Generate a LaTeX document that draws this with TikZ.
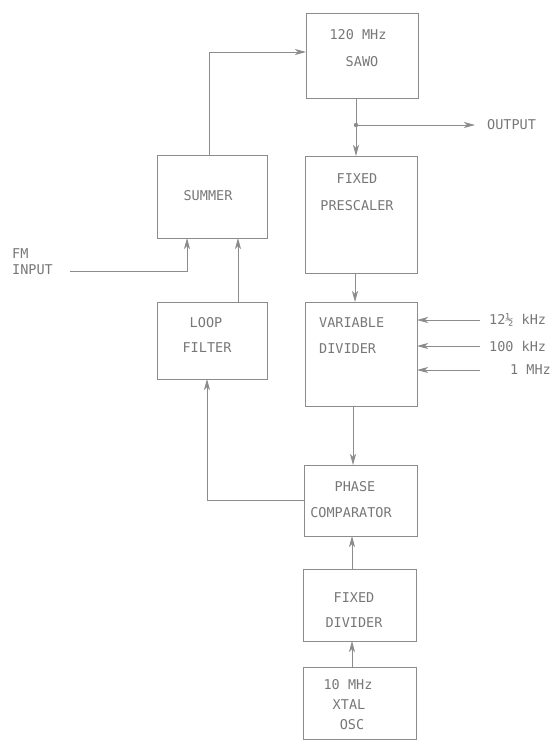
\documentclass[tikz,border=0pt]{standalone}
\usepackage{fontspec}
\newfontfamily\typefont{DejaVu Sans Mono}
\usetikzlibrary{arrows.meta}
\definecolor{linegray}{HTML}{8C8C8C}
\definecolor{textgray}{HTML}{777777}
\begin{document}
\begin{tikzpicture}[x=1pt,y=-1pt,
  blk/.style={draw=linegray,line width=1pt,inner sep=0pt,outer sep=0pt,rectangle},
  lbl/.style={text=textgray,inner sep=0pt,font=\typefont\fontsize{13.5}{15}\selectfont},
  conn/.style={draw=linegray,line width=0.9pt},
  arr/.style={conn,-{Stealth[length=11pt,width=6pt,inset=3pt]}}]
\useasboundingbox (0,0) rectangle (554,741);
% boxes
\node[blk,minimum width=112pt,minimum height=85pt] (sawo) at (362,56.5) {};
\node[blk,minimum width=112pt,minimum height=117pt] (pre) at (361,214.5) {};
\node[blk,minimum width=110pt,minimum height=83pt] (sum) at (212,196.5) {};
\node[blk,minimum width=110pt,minimum height=77pt] (loop) at (212,340.5) {};
\node[blk,minimum width=112pt,minimum height=104pt] (var) at (361,354) {};
\node[blk,minimum width=113pt,minimum height=71pt] (phase) at (360.5,500.5) {};
\node[blk,minimum width=113pt,minimum height=72pt] (fdiv) at (359.5,605) {};
\node[blk,minimum width=113pt,minimum height=72pt] (xtal) at (359.5,703) {};
% texts
\node[lbl] (t1) at (358,35) {120 MHz};
\node[lbl] (t2) at (362,62) {SAWO};
\node[lbl,anchor=west] (tout) at (487,125) {OUTPUT};
\node[lbl] (t3) at (357,179) {FIXED};
\node[lbl] (t4) at (357,206) {PRESCALER};
\node[lbl] (t5) at (208,196) {SUMMER};
\node[lbl,anchor=west] (t6) at (12,254) {FM};
\node[lbl,anchor=west] (t7) at (12,270) {INPUT};
\node[lbl] (t8) at (206,323) {LOOP};
\node[lbl] (t9) at (207,348) {FILTER};
\node[lbl,anchor=west] (t10) at (319,323) {VARIABLE};
\node[lbl,anchor=west] (t11) at (319,349) {DIVIDER};
\node[lbl,anchor=west] (f1) at (489,320) {12½ kHz};
\node[lbl,anchor=west] (f2) at (489,346) {100 kHz};
\node[lbl,anchor=east] (f3) at (551,370) {1 MHz};
\node[lbl] (t12) at (355,487) {PHASE};
\node[lbl] (t13) at (351,513) {COMPARATOR};
\node[lbl] (t14) at (354,598) {FIXED};
\node[lbl] (t15) at (354,623) {DIVIDER};
\node[lbl] (t16) at (348,685) {10 MHz};
\node[lbl] (t17) at (349,705) {XTAL};
\node[lbl] (t18) at (352,725) {OSC};
% coordinates
\coordinate (j) at (356,125);
\coordinate (outend) at (475,125);
\coordinate (fm) at (70,271);
\coordinate (c1) at (480,320);
\coordinate (c2) at (480,346);
\coordinate (c3) at (480,370);
% connectors
\draw[conn] (j |- sawo.south) -- (j);
\draw[arr] (j) -- (j |- pre.north);
\draw[arr] (j) -- (outend);
\fill[linegray] (j) circle (2.2pt);
\draw[arr] ([xshift=-3pt]sum.north) |- ([yshift=4.5pt]sawo.west);
\draw[arr] ([xshift=-6pt]pre.south) -- ([xshift=-6pt]var.north);
\draw[arr] ([xshift=-8pt]var.south) -- ([xshift=-7.5pt]phase.north);
\draw[arr] ([xshift=-7.5pt]fdiv.north) -- ([xshift=-8.5pt]phase.south);
\draw[arr] ([xshift=-7.5pt]xtal.north) -- ([xshift=-7.5pt]fdiv.south);
\draw[arr] (phase.west) -| ([xshift=-5pt]loop.south);
\draw[arr] ([xshift=26pt]loop.north) -- ([xshift=26pt]sum.south);
\draw[arr] (fm) -| ([xshift=-25pt]sum.south);
\draw[arr] (c1) -- (c1 -| var.east);
\draw[arr] (c2) -- (c2 -| var.east);
\draw[arr] (c3) -- (c3 -| var.east);
\end{tikzpicture}
\end{document}
